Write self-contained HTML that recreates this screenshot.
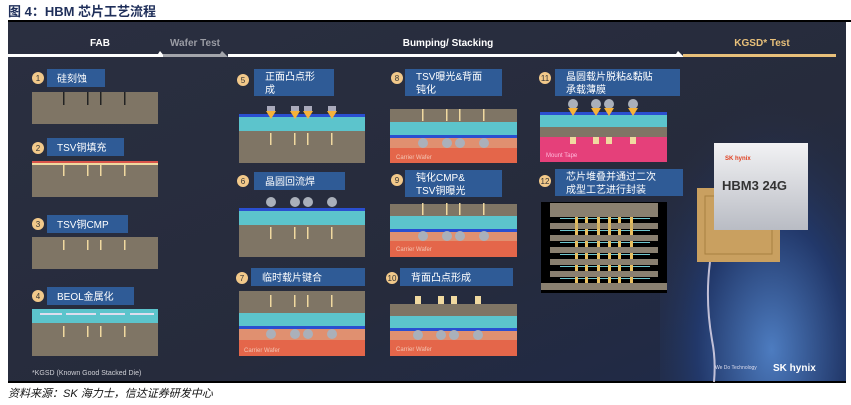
<!DOCTYPE html>
<html><head><meta charset="utf-8"><style>
html,body{margin:0;padding:0;background:#fff;width:851px;height:405px;overflow:hidden}
svg text{font-family:"Liberation Sans","Noto Sans CJK SC",sans-serif}
</style></head><body>
<svg width="851" height="405" viewBox="0 0 851 405" xmlns="http://www.w3.org/2000/svg">
<defs>
<linearGradient id="bg" x1="0" y1="0" x2="1" y2="1">
<stop offset="0" stop-color="#2a2f40"/><stop offset="0.6" stop-color="#262b3c"/><stop offset="1" stop-color="#1e2a4a"/></linearGradient>
<radialGradient id="sky" cx="0.6" cy="0.9" r="0.8"><stop offset="0" stop-color="#4d7cc0"/><stop offset="0.5" stop-color="#22386a"/><stop offset="1" stop-color="#262b3c" stop-opacity="0"/></radialGradient>
<linearGradient id="chip" x1="0" y1="0" x2="0" y2="1"><stop offset="0" stop-color="#f2f2f4"/><stop offset="1" stop-color="#b9bcc4"/></linearGradient>
</defs>
<text x="8" y="16" font-size="13" font-weight="bold" fill="#1f2f5a">图 4：HBM 芯片工艺流程</text>
<rect x="8" y="20" width="843" height="2" fill="#000"/>
<rect x="8" y="22" width="838" height="360" fill="url(#bg)"/>
<rect x="660" y="60" width="186" height="322" fill="url(#sky)"/>
<rect x="8" y="381" width="838" height="2" fill="#000"/>
<!-- header -->
<text x="100" y="46" font-size="10" font-weight="bold" fill="#fff" text-anchor="middle">FAB</text>
<text x="195" y="46" font-size="10" font-weight="bold" fill="#9a9ca4" text-anchor="middle">Wafer Test</text>
<text x="448" y="46" font-size="10" font-weight="bold" fill="#fff" text-anchor="middle">Bumping/ Stacking</text>
<text x="762" y="46" font-size="10" font-weight="bold" fill="#e8c07a" text-anchor="middle">KGSD* Test</text>
<rect x="8" y="54" width="150" height="3" fill="#fff"/>
<polygon points="158,54 160,51 165,57 158,57" fill="#fff"/>
<rect x="163" y="54" width="62" height="3" fill="#a3a5ab"/>
<polygon points="220,54 222,51 228,57 220,57" fill="#a3a5ab"/>
<rect x="228" y="54" width="452" height="3" fill="#fff"/>
<polygon points="676,54 678,51 684,57 676,57" fill="#fff"/>
<rect x="683" y="54" width="153" height="3" fill="#e8c07a"/>

<g font-size="10" fill="#fff">
<g fill="#2f5b96">
<rect x="47" y="69" width="58" height="18"/><rect x="47" y="138" width="77" height="18"/>
<rect x="47" y="215" width="81" height="18"/><rect x="47" y="287" width="87" height="18"/>
<rect x="254" y="69" width="80" height="27"/><rect x="254" y="172" width="91" height="18"/>
<rect x="251" y="268" width="114" height="18"/>
<rect x="405" y="69" width="97" height="27"/><rect x="405" y="170" width="97" height="27"/>
<rect x="400" y="268" width="113" height="18"/>
<rect x="555" y="69" width="125" height="27"/><rect x="555" y="169" width="128" height="27"/>
</g>
<g fill="#f2c98a"><circle cx="38" cy="78" r="6"/><circle cx="38" cy="148" r="6"/><circle cx="38" cy="224" r="6"/><circle cx="38" cy="296" r="6"/>
<circle cx="243" cy="80" r="6"/><circle cx="243" cy="181" r="6"/><circle cx="242" cy="278" r="6"/>
<circle cx="397" cy="78" r="6"/><circle cx="397" cy="180" r="6"/><circle cx="392" cy="278" r="6"/>
<circle cx="545" cy="78" r="6"/><circle cx="545" cy="181" r="6"/></g>
<g fill="#333" font-size="8" text-anchor="middle"><text x="38" y="81">1</text><text x="38" y="151">2</text><text x="38" y="227">3</text><text x="38" y="299">4</text>
<text x="243" y="83">5</text><text x="243" y="184">6</text><text x="242" y="281">7</text><text x="397" y="81">8</text><text x="397" y="183">9</text><text x="392" y="281">10</text><text x="545" y="81">11</text><text x="545" y="184">12</text></g>
<text x="57" y="82">硅刻蚀</text><text x="57" y="151">TSV铜填充</text><text x="57" y="228">TSV铜CMP</text><text x="57" y="300">BEOL金属化</text>
<text x="265" y="80">正面凸点形</text><text x="265" y="93">成</text><text x="265" y="185">晶圆回流焊</text>
<text x="262" y="281">临时载片键合</text>
<text x="416" y="80">TSV曝光&amp;背面</text><text x="416" y="93">钝化</text>
<text x="416" y="181">钝化CMP&amp;</text><text x="416" y="194">TSV铜曝光</text>
<text x="411" y="281">背面凸点形成</text>
<text x="566" y="80">晶圆载片脱粘&amp;黏贴</text><text x="566" y="93">承载薄膜</text>
<text x="566" y="180">芯片堆叠并通过二次</text><text x="566" y="193">成型工艺进行封装</text>
</g>

<g fill="#7f7565">
<rect x="32" y="92" width="126" height="32"/><rect x="32" y="163" width="126" height="34"/>
<rect x="32" y="237" width="126" height="32"/><rect x="32" y="323" width="126" height="33"/>
</g>
<g fill="#222"><rect x="63" y="92" width="1.5" height="13"/><rect x="87" y="92" width="1.5" height="13"/><rect x="100" y="92" width="1.5" height="13"/><rect x="124" y="92" width="1.5" height="13"/></g>
<rect x="32" y="161" width="126" height="2" fill="#d9534a"/><rect x="32" y="163" width="126" height="2" fill="#f0d9a0"/>
<g fill="#f0d9a0">
<rect x="63" y="163" width="1.5" height="13"/><rect x="87" y="163" width="1.5" height="13"/><rect x="100" y="163" width="1.5" height="13"/><rect x="124" y="163" width="1.5" height="13"/>
<rect x="63" y="240" width="1.5" height="10"/><rect x="87" y="240" width="1.5" height="10"/><rect x="100" y="240" width="1.5" height="10"/><rect x="124" y="240" width="1.5" height="10"/>
<rect x="63" y="326" width="1.5" height="11"/><rect x="87" y="326" width="1.5" height="11"/><rect x="100" y="326" width="1.5" height="11"/><rect x="124" y="326" width="1.5" height="11"/>
</g>
<rect x="32" y="309" width="126" height="14" fill="#5cc4cc"/>
<g fill="#dde"><rect x="40" y="313" width="22" height="2"/><rect x="66" y="313" width="30" height="2"/><rect x="100" y="313" width="25" height="2"/><rect x="130" y="313" width="24" height="2"/></g>
<text x="32" y="375" font-size="7" fill="#cfd0d6">*KGSD (Known Good Stacked Die)</text>

<g>
<rect x="239" y="116" width="126" height="15" fill="#5cc4cc"/><rect x="239" y="114" width="126" height="3" fill="#2a4fd0"/>
<rect x="239" y="131" width="126" height="32" fill="#7f7565"/>
<g fill="#f0d9a0"><rect x="270" y="133" width="1.5" height="12"/><rect x="294" y="133" width="1.5" height="12"/><rect x="307" y="133" width="1.5" height="12"/><rect x="331" y="133" width="1.5" height="12"/></g>
<g fill="#f5b23a"><polygon points="266,111 276,111 271,119"/><polygon points="290,111 300,111 295,119"/><polygon points="303,111 313,111 308,119"/><polygon points="327,111 337,111 332,119"/></g>
<g fill="#aab"><rect x="267" y="106" width="8" height="5"/><rect x="291" y="106" width="8" height="5"/><rect x="304" y="106" width="8" height="5"/><rect x="328" y="106" width="8" height="5"/></g>

<rect x="239" y="210" width="126" height="15" fill="#5cc4cc"/><rect x="239" y="208" width="126" height="3" fill="#2a4fd0"/>
<rect x="239" y="225" width="126" height="32" fill="#7f7565"/>
<g fill="#f0d9a0"><rect x="270" y="227" width="1.5" height="12"/><rect x="294" y="227" width="1.5" height="12"/><rect x="307" y="227" width="1.5" height="12"/><rect x="331" y="227" width="1.5" height="12"/></g>
<g fill="#aab0ba"><circle cx="271" cy="202" r="5"/><circle cx="295" cy="202" r="5"/><circle cx="308" cy="202" r="5"/><circle cx="332" cy="202" r="5"/></g>

<rect x="239" y="291" width="126" height="22" fill="#7f7565"/><rect x="239" y="313" width="126" height="14" fill="#5cc4cc"/>
<rect x="239" y="326" width="126" height="3" fill="#2a4fd0"/><rect x="239" y="329" width="126" height="11" fill="#e09070"/>
<rect x="239" y="340" width="126" height="16" fill="#e4664a"/>
<g fill="#f0d9a0"><rect x="270" y="295" width="1.5" height="12"/><rect x="294" y="295" width="1.5" height="12"/><rect x="307" y="295" width="1.5" height="12"/><rect x="331" y="295" width="1.5" height="12"/></g>
<g fill="#aab0ba"><circle cx="271" cy="334" r="5"/><circle cx="295" cy="334" r="5"/><circle cx="308" cy="334" r="5"/><circle cx="332" cy="334" r="5"/></g>
<text x="244" y="352" font-size="6" fill="#f3c7b5">Carrier Wafer</text>
</g>

<g>
<rect x="390" y="109" width="127" height="13" fill="#7f7565"/><rect x="390" y="122" width="127" height="14" fill="#5cc4cc"/>
<rect x="390" y="135" width="127" height="3" fill="#2a4fd0"/><rect x="390" y="138" width="127" height="10" fill="#e09070"/><rect x="390" y="148" width="127" height="15" fill="#e4664a"/>
<g fill="#f0d9a0"><rect x="422" y="109" width="1.5" height="12"/><rect x="446" y="109" width="1.5" height="12"/><rect x="459" y="109" width="1.5" height="12"/><rect x="483" y="109" width="1.5" height="12"/></g>
<g fill="#aab0ba"><circle cx="423" cy="143" r="5"/><circle cx="447" cy="143" r="5"/><circle cx="460" cy="143" r="5"/><circle cx="484" cy="143" r="5"/></g>
<text x="396" y="159" font-size="6" fill="#f3c7b5">Carrier Wafer</text>

<rect x="390" y="204" width="127" height="12" fill="#7f7565"/><rect x="390" y="216" width="127" height="14" fill="#5cc4cc"/>
<rect x="390" y="229" width="127" height="3" fill="#2a4fd0"/><rect x="390" y="232" width="127" height="9" fill="#e09070"/><rect x="390" y="241" width="127" height="16" fill="#e4664a"/>
<g fill="#f0d9a0"><rect x="422" y="203" width="1.5" height="12"/><rect x="446" y="203" width="1.5" height="12"/><rect x="459" y="203" width="1.5" height="12"/><rect x="483" y="203" width="1.5" height="12"/></g>
<g fill="#aab0ba"><circle cx="423" cy="236" r="5"/><circle cx="447" cy="236" r="5"/><circle cx="460" cy="236" r="5"/><circle cx="484" cy="236" r="5"/></g>
<text x="396" y="251" font-size="6" fill="#f3c7b5">Carrier Wafer</text>

<rect x="390" y="304" width="127" height="12" fill="#7f7565"/><rect x="390" y="316" width="127" height="13" fill="#5cc4cc"/>
<rect x="390" y="328" width="127" height="3" fill="#2a4fd0"/><rect x="390" y="331" width="127" height="9" fill="#e09070"/><rect x="390" y="340" width="127" height="16" fill="#e4664a"/>
<g fill="#f0d9a0"><rect x="415" y="296" width="6" height="8"/><rect x="438" y="296" width="6" height="8"/><rect x="451" y="296" width="6" height="8"/><rect x="475" y="296" width="6" height="8"/></g>
<g fill="#aab0ba"><circle cx="418" cy="335" r="5"/><circle cx="441" cy="335" r="5"/><circle cx="454" cy="335" r="5"/><circle cx="478" cy="335" r="5"/></g>
<text x="396" y="351" font-size="6" fill="#f3c7b5">Carrier Wafer</text>
</g>

<g>
<rect x="540" y="112" width="127" height="3" fill="#2a4fd0"/><rect x="540" y="115" width="127" height="12" fill="#5cc4cc"/>
<rect x="540" y="127" width="127" height="10" fill="#7f7565"/><rect x="540" y="137" width="127" height="25" fill="#e5407a"/>
<g fill="#aab0ba"><circle cx="573" cy="104" r="5"/><circle cx="596" cy="104" r="5"/><circle cx="609" cy="104" r="5"/><circle cx="633" cy="104" r="5"/></g>
<g fill="#f5b23a"><polygon points="568,108 578,108 573,116"/><polygon points="591,108 601,108 596,116"/><polygon points="604,108 614,108 609,116"/><polygon points="628,108 638,108 633,116"/></g>
<g fill="#f0d9a0"><rect x="570" y="137" width="6" height="7"/><rect x="593" y="137" width="6" height="7"/><rect x="606" y="137" width="6" height="7"/><rect x="630" y="137" width="6" height="7"/></g>
<text x="546" y="157" font-size="6" fill="#fbd">Mount Tape</text>

<rect x="541" y="202" width="126" height="91" fill="#000"/>
<rect x="550" y="203" width="108" height="14" fill="#8a8070"/>
<g fill="#8a8070"><rect x="550" y="223" width="108" height="6"/><rect x="550" y="235" width="108" height="6"/><rect x="550" y="247" width="108" height="6"/><rect x="550" y="259" width="108" height="6"/><rect x="550" y="271" width="108" height="6"/><rect x="541" y="283" width="126" height="7"/></g>
<g fill="#6fc8d0"><rect x="560" y="218" width="90" height="1"/><rect x="560" y="230" width="90" height="1"/><rect x="560" y="242" width="90" height="1"/><rect x="560" y="254" width="90" height="1"/><rect x="560" y="266" width="90" height="1"/><rect x="560" y="278" width="90" height="1"/></g>
<g fill="#e8c060">
<rect x="575" y="217" width="3" height="66"/><rect x="585" y="217" width="3" height="66"/><rect x="597" y="217" width="3" height="66"/><rect x="608" y="217" width="3" height="66"/><rect x="618" y="217" width="3" height="66"/><rect x="630" y="217" width="3" height="66"/>
</g>
<g fill="#8a8070"><rect x="550" y="223" width="108" height="6"/><rect x="550" y="235" width="108" height="6"/><rect x="550" y="247" width="108" height="6"/><rect x="550" y="259" width="108" height="6"/><rect x="550" y="271" width="108" height="6"/></g>
<g fill="#e8c060" opacity=".8"><rect x="575" y="223" width="3" height="6"/><rect x="597" y="223" width="3" height="6"/><rect x="608" y="223" width="3" height="6"/><rect x="630" y="223" width="3" height="6"/></g>
</g>

<rect x="697" y="188" width="83" height="74" fill="#c9a060"/>
<rect x="705" y="196" width="67" height="58" fill="none" stroke="#a88040" stroke-width="1"/>
<rect x="714" y="143" width="94" height="87" fill="url(#chip)"/>
<text x="725" y="160" font-size="6" font-weight="bold" fill="#e04020">SK hynix</text>
<text x="722" y="190" font-size="13" font-weight="bold" fill="#333">HBM3 24G</text>
<path d="M710 262 Q705 300 712 340 Q716 360 714 382" stroke="#e8e0f0" stroke-width="2" fill="none" opacity=".8"/>
<text x="715" y="369" font-size="5" fill="#dde">We Do Technology</text>
<text x="773" y="371" font-size="10" font-weight="bold" fill="#fff">SK hynix</text>

<text x="8" y="397" font-size="11" font-style="italic" fill="#111" font-family="'Liberation Serif','Noto Serif CJK SC',serif">资料来源：SK 海力士，信达证券研发中心</text>
</svg>
</body></html>
